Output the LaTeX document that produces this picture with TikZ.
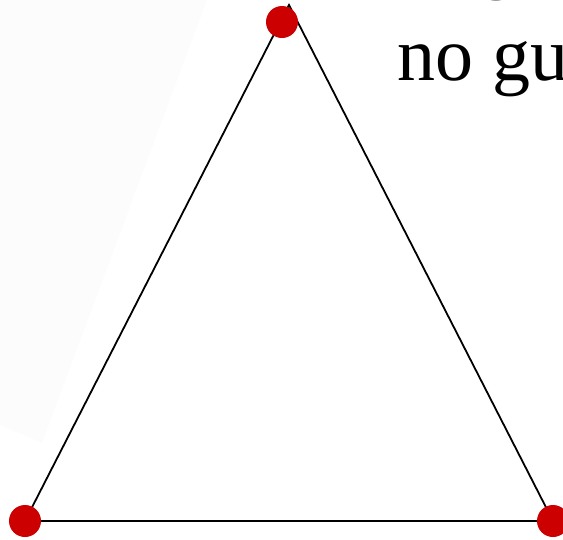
\documentclass[tikz,border=0pt]{standalone}
\usepackage{fontspec}
\setmainfont{Liberation Serif}
\begin{document}
\begin{tikzpicture}[x=1pt,y=-1pt,
  edge/.style={draw=black,line width=1.8pt},
  dot/.style={circle,fill=red!80!black,inner sep=0pt,minimum size=32pt},
  bigtext/.style={font=\fontsize{76}{90}\selectfont,inner sep=0pt,anchor=base west}]
\useasboundingbox (0,0) rectangle (563,539);
\fill[black!1] (0,0) -- (207,0) -- (42,443) -- (0,425) -- cycle;
\coordinate (apex) at (289,5);
\coordinate (bl) at (25,521);
\coordinate (br) at (553,521);
\draw[edge] (bl) -- (apex) -- (br) -- (bl);
\node[dot] (dtop) at (282,22) {};
\node[dot] (dbl) at (bl) {};
\node[dot] (dbr) at (br) {};
\node[bigtext] (t1) at (478,-16) {g};
\node[bigtext] (t2) at (397,80) {no gu};
\end{tikzpicture}
\end{document}
